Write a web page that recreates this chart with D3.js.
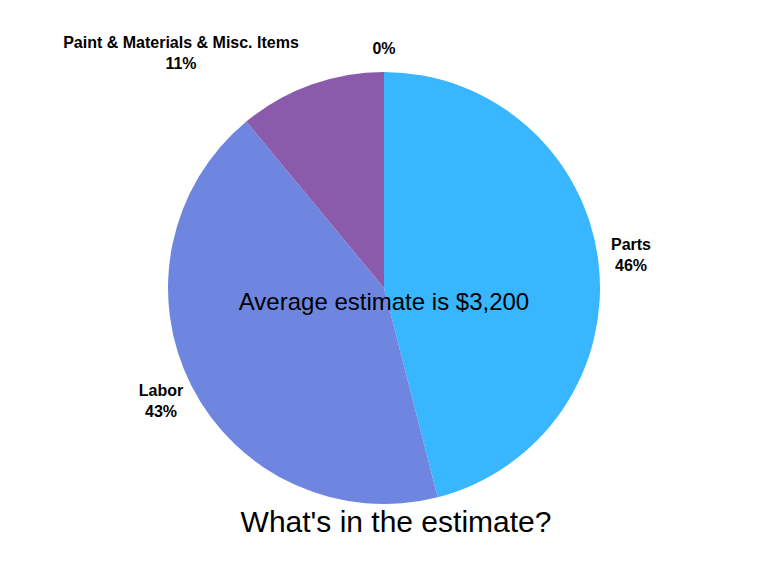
<!DOCTYPE html>
<html>
<head>
<meta charset="utf-8">
<script src="https://cdn.jsdelivr.net/npm/d3@7"></script>
<style>
  body { margin: 0; background: #fff; }
  svg text { font-family: "Liberation Sans", Arial, sans-serif; }
</style>
</head>
<body>
<svg id="chart" width="768" height="576"></svg>
<script>
// pie of estimate components
const categories = ["Parts", "Labor", "Paint & Materials & Misc. Items", ""];
const shares = [46, 43, 11, 0];
const colors = ["#38b6ff", "#6f86e0", "#8a5aab", "#cccccc"];
const centerText = "Average estimate is $3,200";
const title = "What's in the estimate?";

const svg = d3.select("#chart");
const cx = 384, cy = 288, radius = 216;

const data = categories.map((c, i) => ({ name: c, value: shares[i], color: colors[i] }));

const pie = d3.pie().value(d => d.value).sort(null);
const arc = d3.arc().innerRadius(0).outerRadius(radius);

const g = svg.append("g").attr("transform", `translate(${cx},${cy})`);
const arcs = pie(data);

g.selectAll("path").data(arcs).enter().append("path")
  .attr("d", arc)
  .attr("fill", d => d.data.color);

// outside labels
const labelPos = {
  "Parts": [631, 244],
  "Labor": [161, 390],
  "Paint & Materials & Misc. Items": [181, 42],
  "": [384, 48]
};

arcs.forEach(d => {
  const p = labelPos[d.data.name];
  const t = svg.append("text")
    .attr("x", p[0]).attr("y", p[1])
    .attr("text-anchor", "middle")
    .attr("font-size", 16).attr("font-weight", "bold").attr("fill", "#000");
  if (d.data.name) {
    t.append("tspan").attr("x", p[0]).attr("dy", "0.35em").text(d.data.name);
    t.append("tspan").attr("x", p[0]).attr("dy", 21).text(d.data.value + "%");
  } else {
    t.append("tspan").attr("x", p[0]).attr("dy", "0.35em").text(d.data.value + "%");
  }
});

svg.append("text")
  .attr("x", 384).attr("y", 310)
  .attr("text-anchor", "middle")
  .attr("font-size", 24).attr("fill", "#000")
  .text(centerText);

svg.append("text")
  .attr("x", 396).attr("y", 532)
  .attr("text-anchor", "middle")
  .attr("font-size", 30).attr("fill", "#000")
  .text(title);
</script>
</body>
</html>
